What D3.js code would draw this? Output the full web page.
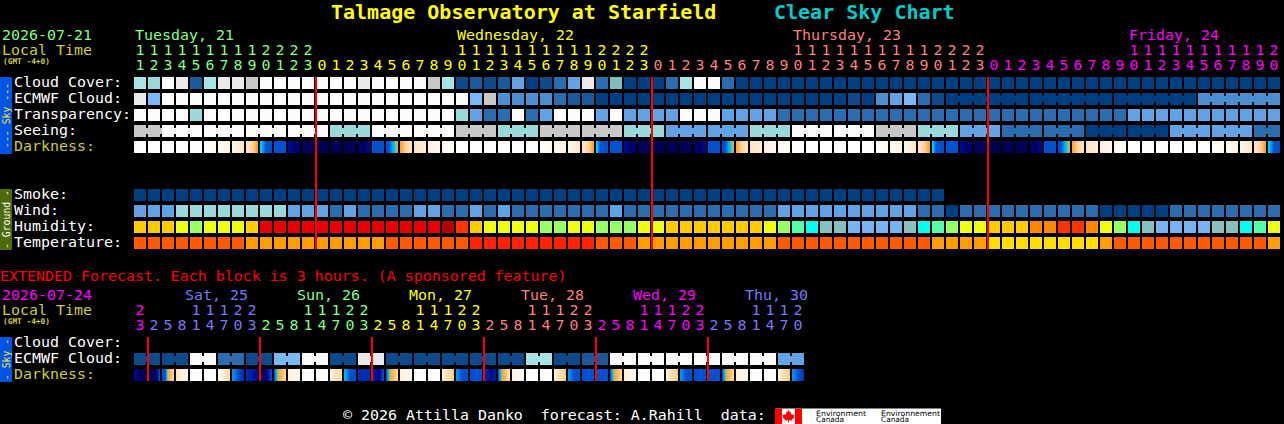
<!DOCTYPE html>
<html><head><meta charset="utf-8">
<script src="https://cdn.jsdelivr.net/npm/d3@7/dist/d3.min.js"></script>
<style>
html,body{margin:0;padding:0;background:#000;overflow:hidden}
svg{display:block}
text{font-family:"DejaVu Sans Mono",monospace;white-space:pre}
</style></head><body><svg id="c" width="1284" height="424"></svg>
<script>
// ---- values ----
const hours=[11,12,13,14,15,16,17,18,19,20,21,22,23,
0,1,2,3,4,5,6,7,8,9,10,11,12,13,14,15,16,17,18,19,20,21,22,23,
0,1,2,3,4,5,6,7,8,9,10,11,12,13,14,15,16,17,18,19,20,21,22,23,
0,1,2,3,4,5,6,7,8,9,10,11,12,13,14,15,16,17,18,19,20];
const dayStarts=[0,13,37,61];
const dayNames=["Tuesday, 21","Wednesday, 22","Thursday, 23","Friday, 24"];
const dayLabelCols=[0,23,47,71];
const dayColors=["#80ff80","#ffff00","#ff7f7f","#ff00ff"];

const cloudColors=["#003f7f","#0c4a8a","#1a5a9a","#2c6ead","#4d8ed0","#63a3e3","#7ab7f5","#7dbdbd","#99d9d9","#a5e5e5","#c8c8c8","#eaeaea","#fbfbfb"];
const humidityColors=["#b50000","#e60000","#ff3300","#ff8800","#ffcc00","#eeff11","#99ff66","#55ffaa","#00ffee","#88bfbf","#78b4f0"];
const tempColors=["#ff2200","#ff5a00","#ff9e00","#ffdd00"];

const cloudCover=[9,8,12,11,2,9,11,11,10,12,12,12,12,12,12,12,11,12,12,12,12,
10,9,1,2,1,2,5,0,1,3,5,11,3,7,0,0,0,3,9,12,12,3,
0,0,0,0,0,0,0,0,0,0,0,0,0,0,0,0,0,0,0,0,0,0,0,0,0,0,0,0,0,0,0,0,0,0,0,0,0,0,0];
const ecmwfCloud=[11,6,12,12,12,12,12,12,12,12,12,12,12,12,12,12,12,12,12,12,12,
12,12,12,6,10,4,4,4,4,3,2,2,0,0,0,0,0,0,0,0,0,0,0,0,0,0,0,0,0,0,1,0,4,5,6,3,1,
0,0,0,0,0,0,0,0,0,0,0,0,0,0,0,0,0,0,4,4,4,4,4,4];
const transparency=[12,12,12,12,8,12,12,12,12,12,12,12,12,12,12,12,12,12,12,12,12,12,12,
8,5,3,3,12,3,5,12,12,12,5,12,5,5,5,5,12,12,12,5,5,5,5,
3,3,3,3,3,3,3,3,3,3,3,3,3,3,3,3,3,3,3,3,3,3,3,3,3,5,5,5,5,5,5,5,5,5,5,5];
const seeing=[10,10,12,12,12,12,12,12,12,12,12,12,12,12,8,8,8,12,12,12,12,12,12,
10,10,10,8,8,8,10,10,10,10,10,10,8,8,8,5,5,5,5,5,5,8,8,8,12,12,12,12,12,12,
10,10,10,8,8,8,5,5,5,3,3,3,3,3,3,0,0,0,0,0,0,5,5,5,5,5,5,3,3];
const darkness=[[0],[0],[0],[0],[0],[0,1],[1,1.5],[1.5,2.5],[2.5,3,4],[5,6,7,7,7],[7],[8,9],[9,9.5],[10],[10],[9.5],[9,9,8],[7],[7,7,6,5,4],[4,3,2.5],[2.5,2],
[2,1],[1,0.5],[0],[0],[0],[0],[0],[0],[0,1],[1,1.5],[1.5,2.5],[2.5,3,4],[5,7,7,7],[7],[8,9],[9,9.5],[10],[10],[9.5],[9,9,8],[7],[7,7,6,5,4],[4,3,2.5],[2.5,2],[2,1],[1,0.5],
[0],[0],[0],[0],[0],[0],[0,1],[1,1.5],[1.5,2.5],[2.5,3,4],[5,7,7,7],[7],[8,9],[9,9.5],[10],[10],[9.5],[9,9,8],[7],[7,7,6,5,4],[4,3,2.5],[2.5,2],[2,1],[1,0.5],
[0],[0],[0],[0],[0],[0],[0,1],[1,1.5],[1.5,2.5],[2.5,3,4],[5,7,7]];
const darkLevels=[0,1,2,3,4,5,6,7,8,9,10];
const darkColors=["#ffffff","#fff8f0","#ffeed8","#ffd8a0","#ffa030","#00d8d8","#0098f0","#0050d0","#000a90","#000060","#000050"];

const smoke=[0,0,0,0,0,0,0,0,0,0,0,0,0,0,0,0,0,0,0,0,0,0,0,0,0,0,0,0,0,0,0,0,0,0,0,0,0,0,0,0,0,0,0,0,0,0,0,0,0,0,0,0,0,0,0,0,0,0];
const wind=[5,5,5,8,8,8,8,8,8,8,8,5,5,5,3,5,3,3,3,3,5,5,3,3,5,3,5,3,3,3,3,3,3,3,5,
3,3,3,3,3,3,3,3,3,3,3,5,5,5,5,5,5,5,5,5,5,3,3,0,3,3,3,3,3,3,3,3,3,3,0,0,0,0,0,3,3,3,3,3,3,3,3];
const humidity=[4,4,4,5,6,5,5,5,4,1,1,1,1,1,1,1,1,1,1,1,1,1,0,2,4,5,5,5,5,6,6,5,5,6,6,6,5,5,4,4,4,4,4,4,4,5,6,7,8,9,9,
10,10,10,10,9,8,7,6,5,5,4,4,4,3,3,2,2,3,5,6,8,9,10,10,10,10,9,9,8,7,5];
const temperature=[1,1,1,1,1,1,1,1,2,2,2,2,2,2,2,2,2,2,1,1,1,1,1,1,0,0,0,0,0,0,0,0,0,1,1,1,2,2,2,2,2,2,2,2,2,2,
1,1,1,1,1,1,1,1,1,1,1,2,2,2,2,3,3,3,3,3,3,3,3,2,1,1,1,1,1,1,1,1,1,1,1,2];

const extHours=[23,2,5,8,11,14,17,20,23,2,5,8,11,14,17,20,23,2,5,8,11,14,17,20,23,2,5,8,11,14,17,20,23,2,5,8,11,14,17,20,23,2,5,8,11,14,17,20];
const extDayStarts=[0,1,9,17,25,33,41];
const extDayNames=["Sat, 25","Sun, 26","Mon, 27","Tue, 28","Wed, 29","Thu, 30"];
const extDayLabelCols=[4,12,20,28,36,44];
const extDayColors=["#ff00ff","#7777ff","#80ff80","#ffff00","#ff7f7f","#ff00ff","#7777ff"];
const extEcmwf=[1,1,12,3,1,6,12,1,11,1,1,1,1,1,9,1,2,12,12,12,12,12,12,5];
const extDarkness=[[8,9,10],[10,10,9,7],[7,7,4,3.5,3],[2.5,1],[0],[0],[1,2,3],[6,7,7.5],[7.5,8],[9,9,8,7],[7,4,3.5,3],[2,1],[0],[0],[2,3],[5.5,7,7],
[7.5,7.5],[7.5,8,8,7],[7,4,3.5,3],[2,1],[0],[0],[2,3.3],[6,7,7],[7],[7.5,8,7.7],[7,4,3.5,2.5],[1.5,0.5],[0],[0],[2,3.3],[6,7,7],
[7],[7],[7,4,3.5,3],[2,1],[0],[0],[2,3.3],[6,7,7],[7],[7],[7,4,3.5,3],[2,1],[0],[0],[2,3.3],[6,7,7.3]];

const mainMidnights=[13,37,61];
const extMidnights=[1,9,17,25,33,41];

const rowLabelsSky=["Cloud Cover:","ECMWF Cloud:","Transparency:","Seeing:","Darkness:"];
const rowLabelsGround=["Smoke:","Wind:","Humidity:","Temperature:"];
const rowLabelsExt=["Cloud Cover:","ECMWF Cloud:","Darkness:"];

// ---- drawing ----
const svg=d3.select("#c");
const x=d3.scaleLinear().domain([0,1]).range([134,148]);
const rowY=d3.scaleLinear().domain([0,1]).range([77,93]);
const BW=12,BH=12;
const cloud=d3.scaleOrdinal(d3.range(cloudColors.length),cloudColors);
const hum=d3.scaleOrdinal(d3.range(humidityColors.length),humidityColors);
const tmp=d3.scaleOrdinal(d3.range(tempColors.length),tempColors);
const dark=d3.scaleLinear().domain(darkLevels).range(darkColors);

function txt(t,tx,ty,fill,size,extra={}){
  const n=svg.append("text").attr("x",tx).attr("y",ty).attr("fill",fill).attr("font-size",size).text(t);
  for(const k in extra) n.attr(k,extra[k]);
  return n;
}
const LBL=14.95;
function row(values,y,color,joined){
  const g=svg.append("g");
  g.selectAll("rect.b").data(values).join("rect").attr("class","b")
    .attr("x",(d,i)=>x(i)).attr("y",y).attr("width",BW).attr("height",BH).attr("fill",d=>color(d));
  if(joined){
    const br=values.map((d,i)=>({d,i})).filter(o=>o.i<values.length-1&&joined(o.i));
    g.selectAll("rect.j").data(br).join("rect").attr("class","j")
      .attr("x",o=>x(o.i)+BW).attr("y",y+3).attr("width",2).attr("height",6).attr("fill",o=>color(o.d));
  }
}
function darkRow(values,y){
  const g=svg.append("g");
  values.forEach((s,i)=>{
    const f=s.length>1?d3.piecewise(d3.interpolateNumber,s):()=>s[0];
    g.selectAll(null).data(d3.range(BW)).join("rect")
      .attr("x",p=>x(i)+p).attr("y",y).attr("width",1.02).attr("height",BH)
      .attr("shape-rendering","crispEdges")
      .attr("fill",p=>dark(f(p/(BW-1))));
  });
}

// title
txt("Talmage Observatory at Starfield",331,18.5,"#ffff00",20,{"font-weight":"bold"});
txt("Clear Sky Chart",774,18.5,"#00cccc",20,{"font-weight":"bold"});

// main header
txt("2026-07-21",2,40,dayColors[0],LBL);
txt("Local Time",2,55,"#cccc33",LBL);
txt("(GMT -4+0)",3,64,"#cccc33",7.8,{"font-weight":"bold"});
dayNames.forEach((d,i)=>txt(d,x(dayLabelCols[i])+1,40,dayColors[i],LBL));
const colColor=(starts,cols,c)=>cols[d3.bisectRight(starts,c)-1];
hours.forEach((h,c)=>{
  const col=colColor(dayStarts,dayColors,c);
  if(h>=10) txt(String(h)[0],x(c)+6,55,col,LBL,{"text-anchor":"middle"});
  txt(String(h%10),x(c)+6,70,col,LBL,{"text-anchor":"middle"});
});

// sky rows
const r=i=>rowY(i);
row(cloudCover,r(0),cloud);
row(ecmwfCloud,r(1),cloud,i=>i>=58&&(i-58)%6!==5);
row(transparency,r(2),cloud);
row(seeing,r(3),cloud,i=>(i-2)%3!==2);
darkRow(darkness,r(4));
rowLabelsSky.forEach((l,i)=>txt(l,14,r(i)+9.5,i===4?"#cccc33":"#ffffff",LBL));

// ground rows
row(smoke,r(7),cloud);
row(wind,r(8),cloud);
row(humidity,r(9),hum);
row(temperature,r(10),tmp);
rowLabelsGround.forEach((l,i)=>txt(l,14,r(7+i)+9.5,"#ffffff",LBL));

// midnight lines
svg.selectAll("rect.m").data(mainMidnights).join("rect").attr("class","m")
  .attr("x",c=>x(c)-1).attr("y",r(0)).attr("width",2).attr("height",r(10)+BH-r(0)).attr("fill","#ff0000");

// side bars
function side(y,h,fill,tcol,t){
  svg.append("rect").attr("x",0).attr("y",y).attr("width",12).attr("height",h).attr("fill",fill);
  svg.append("text").attr("transform",`translate(9.5,${y+h/2}) rotate(-90)`).attr("text-anchor","middle")
    .attr("fill",tcol).attr("font-size",9.8).text(t);
}
side(77,77,"#0055e6","#ffe833","--- Sky ---");
side(189,61,"#4f6a08","#ffffff","- Ground -");
side(337,45,"#0055e6","#ffe833","- Sky -");

// extended
const ey=i=>337+16*i;
txt("EXTENDED Forecast. Each block is 3 hours. (A sponsored feature)",0,281,"#ff0000",LBL);
txt("2026-07-24",2,300,"#ff00ff",LBL);
txt("Local Time",2,315,"#cccc33",LBL);
txt("(GMT -4+0)",3,324,"#cccc33",7.8,{"font-weight":"bold"});
extDayNames.forEach((d,i)=>txt(d,x(extDayLabelCols[i])-5,300,extDayColors[i+1],LBL));
extHours.forEach((h,c)=>{
  const col=colColor(extDayStarts,extDayColors,c);
  if(h>=10) txt(String(h)[0],x(c)+6,315,col,LBL,{"text-anchor":"middle"});
  txt(String(h%10),x(c)+6,330,col,LBL,{"text-anchor":"middle"});
});
row(extEcmwf.flatMap(v=>[v,v]),ey(1),cloud,i=>i%2===0);
darkRow(extDarkness,ey(2));
rowLabelsExt.forEach((l,i)=>txt(l,14,ey(i)+9.5,i===2?"#cccc33":"#ffffff",LBL));
svg.selectAll("rect.e").data(extMidnights).join("rect").attr("class","e")
  .attr("x",c=>x(c)-1).attr("y",ey(0)).attr("width",2).attr("height",44).attr("fill","#ff0000");

// footer
txt("\u00a9 2026 Attilla Danko  forecast: A.Rahill  data:",343,420,"#ffffff",LBL);
svg.append("rect").attr("x",775).attr("y",408.5).attr("width",166).attr("height",16).attr("fill","#ffffff");
svg.append("rect").attr("x",775).attr("y",408.5).attr("width",7).attr("height",16).attr("fill","#ff0000");
svg.append("rect").attr("x",795).attr("y",408.5).attr("width",7).attr("height",16).attr("fill","#ff0000");
svg.append("path").attr("fill","#ff0000")
  .attr("d","M788.5 410l1.6 2.6 1-.5-.4 3 1.5-1.3.4 1.2 1.9-.3-.6 2 .8.5-2.8 2.3.3 1.1-3.2-.4v2h-1v-2l-3.2.4.3-1.1-2.8-2.3.8-.5-.6-2 1.9.3.4-1.2 1.5 1.3-.4-3 1 .5z");
[["Environment",816,50],["Canada",816,28],["Environnement",881,59],["Canada",881,28]].forEach((d,i)=>
  svg.append("text").attr("x",d[1]).attr("y",i%2?421.5:415.5).attr("fill","#000")
    .attr("font-size",7.5).attr("textLength",d[2]).attr("lengthAdjust","spacingAndGlyphs")
    .style("font-family","'DejaVu Sans',sans-serif").text(d[0]));
</script></body></html>
